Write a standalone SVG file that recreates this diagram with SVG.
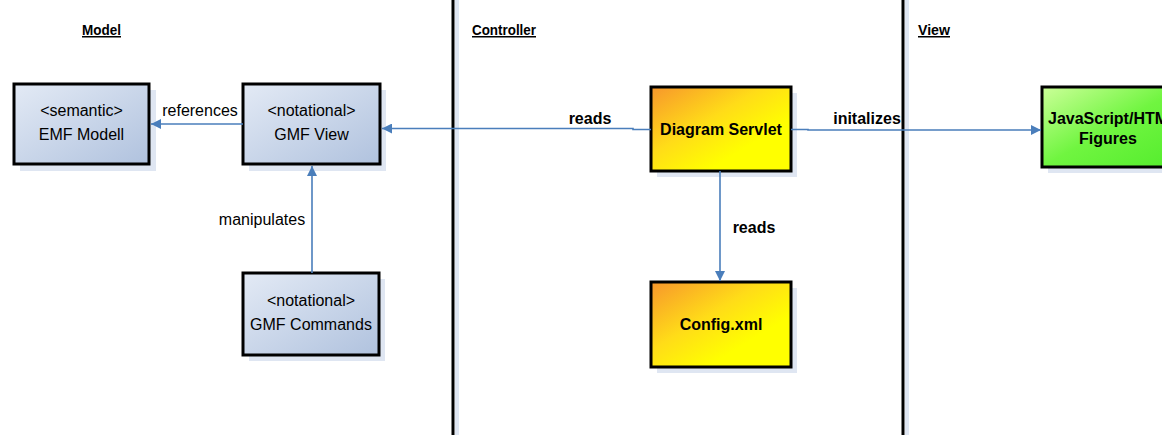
<svg xmlns="http://www.w3.org/2000/svg" width="1162" height="435" viewBox="0 0 1162 435">
<defs>
<linearGradient id="gBlue" x1="0" y1="0" x2="1" y2="1"><stop offset="0" stop-color="#e3eaf5"/><stop offset="1" stop-color="#b0c2de"/></linearGradient>
<linearGradient id="gYellow" x1="0" y1="0" x2="1" y2="1"><stop offset="0" stop-color="#f7962c"/><stop offset="0.4" stop-color="#ffdc18"/><stop offset="0.7" stop-color="#ffff00"/><stop offset="1" stop-color="#ffff00"/></linearGradient>
<linearGradient id="gGreen" x1="0" y1="0" x2="1" y2="1"><stop offset="0" stop-color="#ccff99"/><stop offset="0.5" stop-color="#70f540"/><stop offset="1" stop-color="#52ec2c"/></linearGradient>
<marker id="arr" viewBox="0 0 10 10" refX="10" refY="5" markerWidth="10" markerHeight="10" markerUnits="userSpaceOnUse" orient="auto"><path d="M0,0 L10,5 L0,10 Z" fill="#4a7ebb"/></marker>
</defs>
<style>
.shadow{fill:#dfe6f2}
.box{stroke:#000;stroke-width:3}
.t{font-family:"Liberation Sans Narrow","Arial Narrow","Liberation Sans",sans-serif;font-size:16px;text-anchor:middle;fill:#000}
.b{font-weight:bold}
.h{font-family:"Liberation Sans Narrow","Arial Narrow","Liberation Sans",sans-serif;font-size:15px;font-weight:bold;text-decoration:underline;fill:#000}
.c{stroke:#4a7ebb;stroke-width:1.6;fill:none}
.sep{stroke:#000;stroke-width:3}
</style>
<g id="separators">
<rect x="455" y="0" width="4" height="435" fill="#dfe6f2"/>
<rect x="905" y="0" width="4" height="435" fill="#dfe6f2"/>
<line class="sep" x1="453" y1="0" x2="453" y2="435"/>
<line class="sep" x1="903" y1="0" x2="903" y2="435"/>
</g>
<g id="headers">
<text class="h" x="82" y="35" textLength="39" lengthAdjust="spacingAndGlyphs">Model</text>
<text class="h" x="472" y="35" textLength="64" lengthAdjust="spacingAndGlyphs">Controller</text>
<text class="h" x="918" y="35" textLength="32" lengthAdjust="spacingAndGlyphs">View</text>
</g>
<g id="emf-modell">
<rect class="shadow" x="20" y="90" width="136" height="81"/>
<rect class="box" x="14" y="84" width="135" height="80" fill="url(#gBlue)"/>
<text class="t" x="81.5" y="116">&lt;semantic&gt;</text>
<text class="t" x="81.5" y="140">EMF Modell</text>
</g>
<g id="gmf-view">
<rect class="shadow" x="249" y="90" width="137" height="81"/>
<rect class="box" x="243" y="84" width="137" height="80" fill="url(#gBlue)"/>
<text class="t" x="311.5" y="116">&lt;notational&gt;</text>
<text class="t" x="311.5" y="140">GMF View</text>
</g>
<g id="gmf-commands">
<rect class="shadow" x="249" y="279" width="136" height="82"/>
<rect class="box" x="243" y="273" width="136" height="82" fill="url(#gBlue)"/>
<text class="t" x="311" y="306">&lt;notational&gt;</text>
<text class="t" x="311" y="330">GMF Commands</text>
</g>
<g id="diagram-servlet">
<rect class="shadow" x="657" y="93" width="140" height="84"/>
<rect class="box" x="651" y="87" width="140" height="84" fill="url(#gYellow)"/>
<text class="t b" x="721" y="135">Diagram Servlet</text>
</g>
<g id="config-xml">
<rect class="shadow" x="657" y="288" width="140" height="85"/>
<rect class="box" x="651" y="282" width="140" height="85" fill="url(#gYellow)"/>
<text class="t b" x="721" y="330">Config.xml</text>
</g>
<g id="js-figures">
<rect class="shadow" x="1048" y="93" width="120" height="80"/>
<rect class="box" x="1042" y="87" width="140" height="80" fill="url(#gGreen)"/>
<text class="t b" x="1048" y="124" style="text-anchor:start">JavaScript/HTML</text>
<text class="t b" x="1108" y="144">Figures</text>
</g>
<g id="connectors">
<line class="c" x1="243" y1="124" x2="151" y2="124" marker-end="url(#arr)"/>
<polyline class="c" points="651,129.5 633,129.5 633,128.5 382,128.5" marker-end="url(#arr)"/>
<polyline class="c" points="791,129.5 808,129.5 808,130 1041,130" marker-end="url(#arr)"/>
<line class="c" x1="312" y1="273" x2="312" y2="166" marker-end="url(#arr)"/>
<line class="c" x1="720" y1="171" x2="720" y2="281" marker-end="url(#arr)"/>
</g>
<g id="labels">
<text class="t" x="200" y="116">references</text>
<text class="t b" x="590" y="124">reads</text>
<text class="t b" x="867" y="124">initalizes</text>
<text class="t b" x="754" y="233">reads</text>
<text class="t" x="262" y="225">manipulates</text>
</g>
</svg>
